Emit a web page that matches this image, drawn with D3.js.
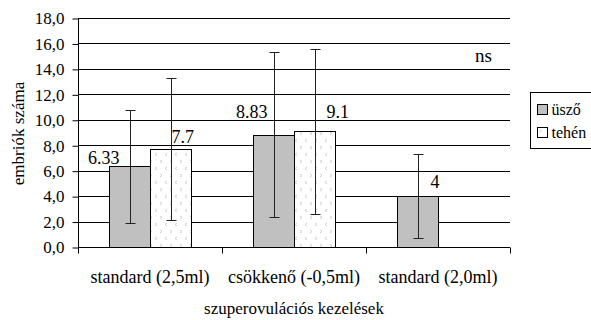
<!DOCTYPE html>
<html>
<head>
<meta charset="utf-8">
<script src="https://cdn.jsdelivr.net/npm/d3@7"></script>
<style>
  body { margin: 0; background: #fff; }
  svg text { font-family: "Liberation Serif", "Times New Roman", serif; }
</style>
</head>
<body>
<div id="chart"></div>
<script>
// kategóriák és sorozatok
const categories = ['standard (2,5ml)', 'csökkenő (-0,5ml)', 'standard (2,0ml)'];
const seriesNames = ['üsző', 'tehén'];
const uszoValues = [6.33, 8.83, 4];
const uszoErr = [4.45, 6.5, 3.3];
const tehenValues = [7.7, 9.1, null];
const tehenErr = [5.6, 6.5, null];
const valueLabels = [['6.33', '8.83', '4'], ['7.7', '9.1', null]];
const yTicks = [0, 2, 4, 6, 8, 10, 12, 14, 16, 18];

// címke eltolások (dx, dy, igazítás) a hibavonalhoz képest
const labelShift = [
  [[-11, -2, 'end'], [-7, -17, 'end'], [12, -8, 'start']],
  [[0, -6, 'start'], [11, -13, 'start'], null]
];

const FONT = '"Liberation Serif", "Times New Roman", serif';

const W = 591, H = 320;
const margin = { top: 18, right: 81, bottom: 73, left: 78 };
const plotW = W - margin.left - margin.right;
const plotH = H - margin.top - margin.bottom;

const svg = d3.select('#chart').append('svg')
  .attr('width', W)
  .attr('height', H)
  .attr('font-family', FONT);

// pöttyös minta a tehén oszlophoz
const defs = svg.append('defs');
const pat = defs.append('pattern')
  .attr('id', 'dots')
  .attr('patternUnits', 'userSpaceOnUse')
  .attr('width', 10)
  .attr('height', 14);
pat.append('rect').attr('width', 10).attr('height', 14).attr('fill', '#fff');
pat.append('path').attr('d', 'M2,2 L4,3.5 L2,5').attr('fill', 'none').attr('stroke', '#c8c8c8').attr('stroke-width', 0.9);
pat.append('path').attr('d', 'M9,9 L7,10.5 L9,12').attr('fill', 'none').attr('stroke', '#c8c8c8').attr('stroke-width', 0.9);

const g = svg.append('g')
  .attr('transform', 'translate(' + margin.left + ',' + margin.top + ')');

const x0 = d3.scaleBand().domain(categories).range([0, plotW]);
const x1 = d3.scaleBand().domain(seriesNames).range([0, 82]);
const y = d3.scaleLinear().domain([0, 18]).range([plotH, 0]);

// rácsvonalak
g.append('g')
  .selectAll('line')
  .data(yTicks.filter(d => d > 0))
  .join('line')
  .attr('x1', 0)
  .attr('x2', plotW)
  .attr('y1', d => Math.round(y(d)) + 0.5)
  .attr('y2', d => Math.round(y(d)) + 0.5)
  .attr('stroke', '#000')
  .attr('stroke-width', 1);

const series = [
  { name: seriesNames[0], values: uszoValues, err: uszoErr, fill: '#c0c0c0' },
  { name: seriesNames[1], values: tehenValues, err: tehenErr, fill: 'url(#dots)' }
];

const groupOffset = (x0.bandwidth() - x1.range()[1]) / 2;

series.forEach((s, si) => {
  const data = categories.map((c, i) => ({ c, v: s.values[i], e: s.err[i], i }))
    .filter(d => d.v != null);
  const bw = x1.bandwidth();
  const bx = d => x0(d.c) + groupOffset + x1(s.name);

  g.append('g')
    .selectAll('rect')
    .data(data)
    .join('rect')
    .attr('x', d => Math.round(bx(d)) + 0.5)
    .attr('y', d => Math.round(y(d.v)) + 0.5)
    .attr('width', bw)
    .attr('height', d => Math.round(y(0)) - Math.round(y(d.v)))
    .attr('fill', s.fill)
    .attr('stroke', '#000')
    .attr('stroke-width', 1);

  // hibavonalak
  const eb = g.append('g').attr('stroke', '#222').attr('stroke-width', 1);
  data.forEach(d => {
    const cx = Math.round(bx(d) + bw / 2) + 0.5;
    const yt = Math.round(y(d.v + d.e)) + 0.5;
    const yb = Math.round(y(d.v - d.e)) + 0.5;
    eb.append('line').attr('x1', cx).attr('x2', cx).attr('y1', yt).attr('y2', yb);
    eb.append('line').attr('x1', cx - 5).attr('x2', cx + 5).attr('y1', yt).attr('y2', yt);
    eb.append('line').attr('x1', cx - 5).attr('x2', cx + 5).attr('y1', yb).attr('y2', yb);

    const sh = labelShift[si][d.i];
    g.append('text')
      .attr('x', cx + sh[0])
      .attr('y', y(d.v) + sh[1])
      .attr('text-anchor', sh[2])
      .attr('font-size', 18)
      .attr('fill', '#000')
      .text(valueLabels[si][d.i]);
  });
});

// y tengely
const yAxis = d3.axisLeft(y).tickValues(yTicks).tickSize(6).tickPadding(8)
  .tickFormat(d => d3.format('.1f')(d).replace('.', ','));
const ya = g.append('g').attr('transform', 'translate(0.5,0)').call(yAxis)
  .attr('font-family', FONT).attr('font-size', 17);
ya.select('.domain').attr('d', 'M0,0.5V' + (plotH + 6)).attr('stroke', '#000');
ya.selectAll('.tick line').attr('stroke', '#000')
  .attr('transform', 'translate(0,0.5)');
ya.selectAll('text').attr('fill', '#000').attr('dy', '0.34em');

// x tengely
const xa = g.append('g').attr('transform', 'translate(0,' + (Math.round(plotH) + 0.5) + ')');
xa.append('line').attr('x1', 0).attr('x2', plotW).attr('stroke', '#000');
xa.selectAll('.ctick')
  .data(d3.range(categories.length + 1))
  .join('line')
  .attr('class', 'ctick')
  .attr('x1', i => Math.round(i * x0.step()) + 0.5)
  .attr('x2', i => Math.round(i * x0.step()) + 0.5)
  .attr('y1', 0).attr('y2', 6)
  .attr('stroke', '#000');
xa.selectAll('.clab')
  .data(categories)
  .join('text')
  .attr('class', 'clab')
  .attr('x', d => x0(d) + x0.bandwidth() / 2)
  .attr('y', 35)
  .attr('text-anchor', 'middle')
  .attr('font-size', 18)
  .text(d => d);

// tengelycímek
svg.append('text')
  .attr('x', margin.left + plotW / 2)
  .attr('y', 314)
  .attr('text-anchor', 'middle')
  .attr('font-size', 17)
  .text('szuperovulációs kezelések');

svg.append('text')
  .attr('transform', 'translate(24,' + (margin.top + plotH / 2 + 1) + ') rotate(-90)')
  .attr('text-anchor', 'middle')
  .attr('font-size', 17)
  .text('embriók száma');

svg.append('text')
  .attr('x', 475)
  .attr('y', 62)
  .attr('font-size', 19)
  .text('ns');

// jelmagyarázat
const lg = svg.append('g').attr('transform', 'translate(530.5,92.5)');
lg.append('rect').attr('width', 70).attr('height', 56)
  .attr('fill', '#fff').attr('stroke', '#000');
seriesNames.forEach((n, i) => {
  const row = lg.append('g').attr('transform', 'translate(7,' + (12 + i * 23) + ')');
  row.append('rect').attr('width', 10).attr('height', 10)
    .attr('fill', series[i].fill).attr('stroke', '#000');
  row.append('text').attr('x', 14).attr('y', 10).attr('font-size', 16).text(n);
});
</script>
</body>
</html>
